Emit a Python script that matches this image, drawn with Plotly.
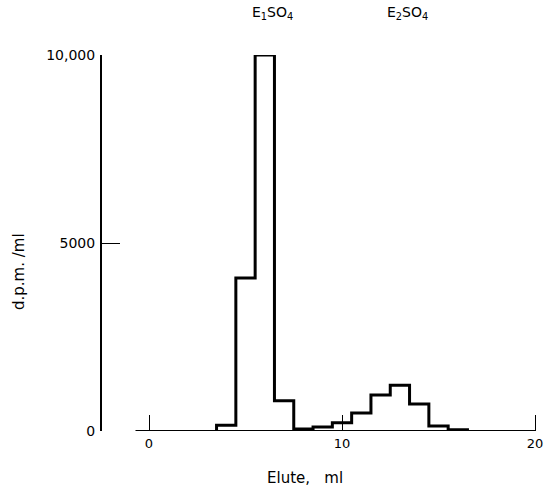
import plotly.graph_objects as go

# ---- data ----
bin_edges = [3.5, 4.5, 5.5, 6.5, 7.5, 8.5, 9.5, 10.5, 11.5, 12.5, 13.5, 14.5, 15.5, 16.5]
dpm_per_ml = [150, 4070, 10000, 805, 55, 105, 220, 480, 960, 1220, 720, 135, 30]
baseline_x = [-0.7, 20]
x_tick_vals = [0, 10, 20]
x_tick_text = ["0", "10", "20"]
y_tick_vals = [0, 5000, 10000]
y_tick_text = ["0", "5000", "10,000"]
peak_labels = ["E<sub>1</sub>SO<sub>4</sub>", "E<sub>2</sub>SO<sub>4</sub>"]

# build step outline from the bins
step_x = [bin_edges[0]]
step_y = [0]
for i, v in enumerate(dpm_per_ml):
    step_x += [bin_edges[i], bin_edges[i + 1]]
    step_y += [v, v]
step_x.append(bin_edges[-1])
step_y.append(0)

FONT = "DejaVu Sans"

fig = go.Figure()
fig.add_trace(go.Scatter(x=baseline_x, y=[0, 0], mode="lines",
                         line=dict(color="black", width=1.8),
                         hoverinfo="skip", cliponaxis=False))
fig.add_trace(go.Scatter(x=step_x, y=step_y, mode="lines",
                         line=dict(color="black", width=3),
                         cliponaxis=False))

W, H = 545, 486
left, right, top, bottom = 102, 538, 55, 431

fig.update_layout(
    width=W, height=H,
    margin=dict(l=left, r=W - right, t=top, b=H - bottom, autoexpand=False),
    paper_bgcolor="white", plot_bgcolor="white",
    showlegend=False,
    font=dict(family=FONT, color="black", size=12),
    xaxis=dict(range=[-2.435, 20.155], showgrid=False, zeroline=False,
               automargin=False,
               showline=False, ticks="inside", ticklen=16, tickwidth=1.2,
               tickcolor="black", tickvals=x_tick_vals, ticktext=x_tick_text,
               tickfont=dict(size=13), ticklabelstandoff=3),
    yaxis=dict(range=[0, 10000], showgrid=False, zeroline=False,
               automargin=False,
               showline=True, linewidth=2, linecolor="black",
               ticks="inside", ticklen=18, tickwidth=1.2, tickcolor="black",
               tickvals=y_tick_vals, ticktext=y_tick_text,
               tickfont=dict(size=14), ticklabelstandoff=2),
    annotations=[
        dict(text=peak_labels[0], x=272, y=13, showarrow=False, font=dict(size=14)),
        dict(text=peak_labels[1], x=407, y=13, showarrow=False, font=dict(size=14)),
        dict(text="Elute,\u00a0\u00a0\u00a0ml", x=305, y=478, showarrow=False,
             font=dict(size=15)),
        dict(text="d.p.m.\u00a0/ml", x=19, y=272, showarrow=False, textangle=-90,
             font=dict(size=15)),
    ],
)

# convert pixel positions of annotations to paper coordinates
pw, ph = right - left, bottom - top
for a in fig.layout.annotations:
    a.xref = "paper"; a.yref = "paper"
    a.x = (a.x - left) / pw
    a.y = (bottom - a.y) / ph
    a.xanchor = "center"; a.yanchor = "middle"

fig.write_html("out.html", config={"displayModeBar": False},
               post_script="document.body.style.margin='0';")
